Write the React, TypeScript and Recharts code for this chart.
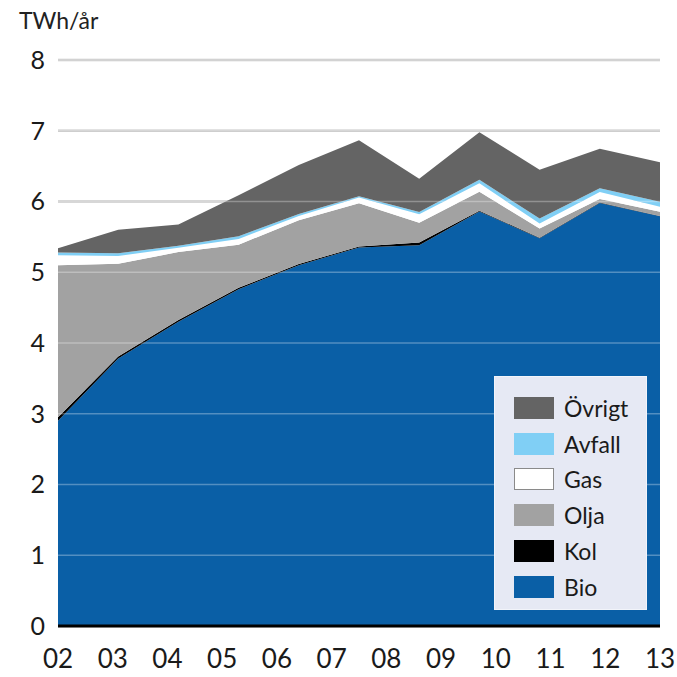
import React from "react";
import {
  AreaChart,
  Area,
  XAxis,
  YAxis,
  CartesianGrid,
  ReferenceLine,
  Legend,
} from "recharts";

// x positions of the data points (on the 02..13 axis, 0 = 02)
const xPositions = [0, 1.1, 2.2, 3.3, 4.4, 5.5, 6.6, 7.7, 8.8, 9.9, 11];

// stacked components, TWh/år
const bio = [2.9, 3.78, 4.3, 4.76, 5.1, 5.35, 5.38, 5.86, 5.48, 5.98, 5.79];
const kol = [0.05, 0.03, 0.025, 0.02, 0.015, 0.015, 0.04, 0.008, 0.008, 0.006, 0.006];
const olja = [2.15, 1.31, 0.96, 0.61, 0.62, 0.61, 0.28, 0.27, 0.13, 0.05, 0.06];
const gas = [0.14, 0.11, 0.06, 0.08, 0.06, 0.08, 0.12, 0.12, 0.07, 0.1, 0.07];
const avfall = [0.04, 0.04, 0.03, 0.04, 0.03, 0.02, 0.03, 0.05, 0.07, 0.05, 0.07];
const ovrigt = [0.06, 0.33, 0.3, 0.58, 0.69, 0.79, 0.47, 0.67, 0.69, 0.56, 0.56];

const xTicks = [0, 1, 2, 3, 4, 5, 6, 7, 8, 9, 10, 11];
const xTickLabels = ["02", "03", "04", "05", "06", "07", "08", "09", "10", "11", "12", "13"];
const yTicks = [0, 1, 2, 3, 4, 5, 6, 7, 8];

const seriesKeys = ["bio", "kol", "olja", "gas", "avfall", "ovrigt"];
const seriesNames = ["Bio", "Kol", "Olja", "Gas", "Avfall", "Övrigt"];
const seriesColors = ["#0a5fa6", "#000000", "#a2a2a2", "#ffffff", "#80cff5", "#646464"];
const swatchBorders = ["#0a5fa6", "#000000", "#a2a2a2", "#8a8a8a", "#80cff5", "#646464"];

const data = xPositions.map((x, i) => ({
  x,
  bio: bio[i],
  kol: kol[i],
  olja: olja[i],
  gas: gas[i],
  avfall: avfall[i],
  ovrigt: ovrigt[i],
}));

const FONT = "Lato, 'Noto Sans', sans-serif";

const LegendBox = () => {
  const order = [5, 4, 3, 2, 1, 0];
  return (
    <div
      style={{
        width: 153,
        height: 234,
        background: "#e6e9f4",
        boxSizing: "border-box",
        border: "1px solid #f2f4fa",
        position: "relative",
        fontFamily: FONT,
      }}
    >
      {order.map((idx, r) => (
        <div
          key={seriesKeys[idx]}
          style={{
            position: "absolute",
            left: 0,
            top: 31 + r * 35.7 - 12,
            height: 24,
            display: "flex",
            alignItems: "center",
          }}
        >
          <div
            style={{
              marginLeft: 19,
              width: 40,
              height: 22,
              boxSizing: "border-box",
              background: seriesColors[idx],
              border: `1px solid ${swatchBorders[idx]}`,
            }}
          />
          <span
            style={{
              marginLeft: 10,
              fontSize: 23,
              color: "#1a1a1a",
              lineHeight: "24px",
            }}
          >
            {seriesNames[idx]}
          </span>
        </div>
      ))}
    </div>
  );
};

export default function App() {
  return (
    <div
      style={{
        position: "absolute",
        left: 0,
        top: 0,
        width: 677,
        height: 677,
        background: "#ffffff",
      }}
    >
      <div
        style={{
          position: "absolute",
          left: 19,
          top: 6,
          fontFamily: FONT,
          fontSize: 23,
          color: "#222",
          zIndex: 2,
        }}
      >
        TWh/år
      </div>
      <AreaChart
        width={677}
        height={677}
        data={data}
        margin={{ top: 60, right: 17, bottom: 0, left: 0 }}
      >
        <CartesianGrid
          horizontal
          vertical={false}
          stroke="#c6c6c6"
          strokeWidth={2.5}
        />
        <XAxis
          dataKey="x"
          type="number"
          domain={[0, 11]}
          ticks={xTicks}
          tickFormatter={(v) => xTickLabels[v]}
          height={51}
          axisLine={false}
          tickLine={false}
          tickSize={0}
          tickMargin={24}
          interval={0}
          tick={{ fill: "#1a1a1a", fontSize: 26, fontFamily: FONT }}
        />
        <YAxis
          type="number"
          domain={[0, 8]}
          ticks={yTicks}
          width={58}
          axisLine={false}
          tickLine={false}
          tickSize={0}
          tickMargin={13}
          interval={0}
          tick={{ fill: "#1a1a1a", fontSize: 25, fontFamily: FONT }}
        />
        {seriesKeys.map((k, i) => (
          <Area
            key={k}
            dataKey={k}
            name={seriesNames[i]}
            stackId="1"
            type="linear"
            fill={seriesColors[i]}
            fillOpacity={1}
            stroke="none"
            isAnimationActive={false}
            dot={false}
            activeDot={false}
          />
        ))}
        {yTicks.slice(1).map((t) => (
          <ReferenceLine
            key={t}
            y={t}
            stroke="#ffffff"
            strokeOpacity={0.3}
            strokeWidth={1.5}
          />
        ))}
        <ReferenceLine y={0} stroke="#000" strokeWidth={3} />
        <Legend
          layout="horizontal"
          verticalAlign="middle"
          align="center"
          content={() => <LegendBox />}
          wrapperStyle={{ position: "absolute", left: 494, top: 376, width: 153, height: 234 }}
        />
      </AreaChart>
    </div>
  );
}
